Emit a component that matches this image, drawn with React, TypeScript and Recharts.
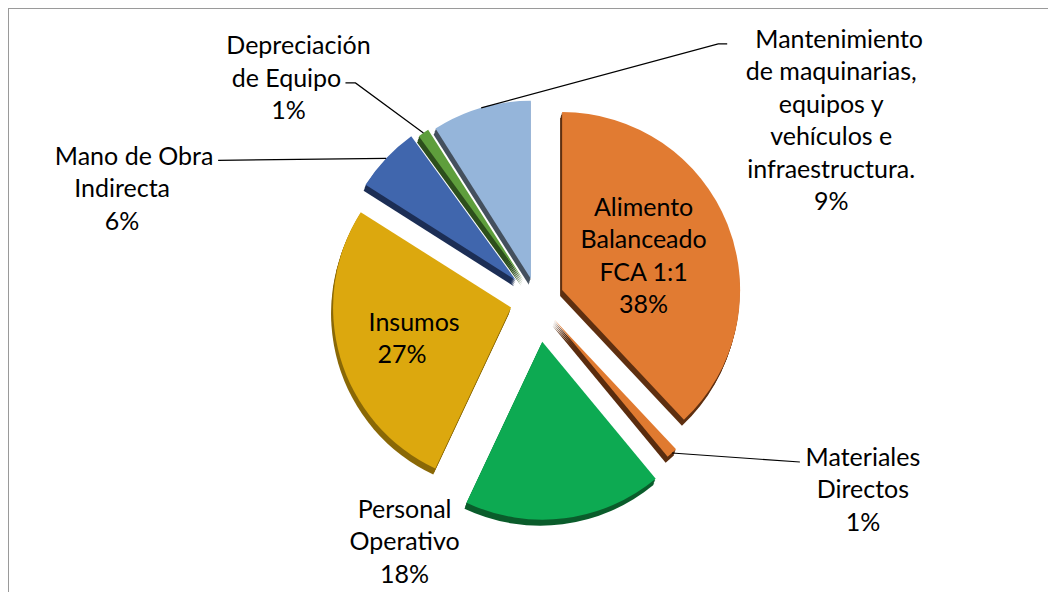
import { PieChart, Pie, Cell } from 'recharts';

// cost structure, clockwise from 12 o'clock
const categories = [
  'Alimento\nBalanceado\nFCA 1:1',
  'Materiales\nDirectos',
  'Personal\nOperativo',
  'Insumos',
  'Mano de Obra\nIndirecta',
  'Depreciación\nde Equipo',
  'Mantenimiento\nde maquinarias,\nequipos y\nvehículos e\ninfraestructura.',
];
const shares = [38, 1, 18, 27, 6, 1, 9];

const topColors = ['#E17B32', '#E07A30', '#0DAA52', '#DCA80E', '#4066AD', '#5E9E3C', '#95B5DA'];
const sideColors = ['#5E2F10', '#5A2C0E', '#0A5C2B', '#8A6806', '#1C2E55', '#2D4F1C', '#44505E'];

// how far each slice is pulled out (px)
const explode = [27, 26, 42, 27, 29, 24, 22];

// label block centre relative to the slice's outer mid point,
// per-line x nudges, leader polyline points
const labelPlace: { dx: number; dy: number; shift?: number[]; leader?: number[][] }[] = [
  { dx: -84, dy: 30 },
  { dx: 191, dy: 35, leader: [[128, 9]] },
  { dx: -160, dy: 22 },
  { dx: 62, dy: -20, shift: [12, 0] },
  { dx: -264, dy: 29, shift: [12, 0, 0], leader: [[-168, 2]] },
  { dx: -125, dy: -56, shift: [0, -12, -10], leader: [[-68, -50], [-78, -50]] },
  { dx: 350, dy: 11, shift: [8, 0, 0, 0, 0, 0], leader: [[237, -64], [246, -64]] },
];

const data = categories.map((name, i) => ({ name, value: shares[i] }));

const total = shares.reduce((a, b) => a + b, 0);
let acc = 0;
const offsets = shares.map((v, i) => {
  const mid = ((acc + v / 2) / total) * 2 * Math.PI;
  acc += v;
  return [Math.sin(mid) * explode[i], -Math.cos(mid) * explode[i]];
});

const CX = 529;
const CY = 292;
const R = 178;
const LH = 32.5;
const depths = [1.5, 3, 4.5, 6];

const renderLabel = (props: any) => {
  const { cx, cy, midAngle, outerRadius, index, value } = props;
  const rad = (midAngle * Math.PI) / 180;
  const ax = cx + outerRadius * Math.cos(rad) + offsets[index][0];
  const ay = cy - outerRadius * Math.sin(rad) + offsets[index][1];
  const place = labelPlace[index];
  const lines = [...categories[index].split('\n'), `${value}%`];
  const bx = ax + place.dx;
  const by = ay + place.dy;
  const pts = place.leader
    ? [[ax, ay], ...place.leader.map(([x, y]) => [ax + x, ay + y])]
    : null;
  return (
    <g key={`lbl-${index}`}>
      {pts && (
        <polyline
          points={pts.map((p) => p.join(',')).join(' ')}
          fill="none"
          stroke="#000"
          strokeWidth={1.2}
        />
      )}
      <text
        textAnchor="middle"
        fontFamily="Lato, 'Noto Sans', sans-serif"
        fontSize={25}
        fill="#000"
      >
        {lines.map((t, j) => (
          <tspan
            key={j}
            x={bx + (place.shift ? place.shift[j] || 0 : 0)}
            y={by + (j - (lines.length - 1) / 2) * LH}
            dominantBaseline="central"
          >
            {t}
          </tspan>
        ))}
      </text>
    </g>
  );
};

export default function App() {
  return (
    <div
      style={{
        width: 1048,
        height: 584,
        boxShadow: 'inset 1px 1px 0 #9a9a9a',
        background: '#fff',
      }}
    >
      <PieChart width={1048} height={584} margin={{ top: 0, right: 0, bottom: 0, left: 0 }}>
        <defs>
          {topColors.map((c, i) => (
            <linearGradient key={i} id={`shade-${i}`} x1="0" y1="0" x2="1" y2="1">
              <stop offset="0%" stopColor={c} stopOpacity={0.88} />
              <stop offset="100%" stopColor={c} stopOpacity={1} />
            </linearGradient>
          ))}
        </defs>
        {/* fake 3d thickness: stacked darker copies pushed down */}
        {depths.map((d) => (
          <Pie
            key={`side-${d}`}
            data={data}
            dataKey="value"
            nameKey="name"
            cx={CX - d / 3}
            cy={CY + d}
            outerRadius={R}
            startAngle={90}
            endAngle={-270}
            label={false}
            labelLine={false}
            isAnimationActive={false}
          >
            {data.map((_, i) => (
              <Cell
                key={i}
                fill={sideColors[i]}
                stroke="none"
                transform={`translate(${offsets[i][0]},${offsets[i][1]})`}
              />
            ))}
          </Pie>
        ))}
        <Pie
          data={data}
          dataKey="value"
          nameKey="name"
          cx={CX}
          cy={CY}
          outerRadius={R}
          startAngle={90}
          endAngle={-270}
          label={renderLabel}
          labelLine={false}
          isAnimationActive={false}
        >
          {data.map((_, i) => (
            <Cell
              key={i}
              fill={topColors[i]}
              stroke="none"
              transform={`translate(${offsets[i][0]},${offsets[i][1]})`}
            />
          ))}
        </Pie>
      </PieChart>
    </div>
  );
}
